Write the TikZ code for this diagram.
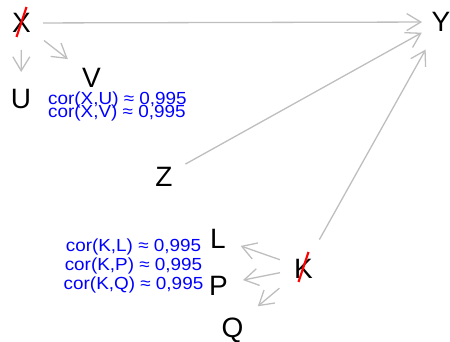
\documentclass[tikz,border=0pt]{standalone}
\usepackage{fontspec}
\usepackage{graphicx}
\setmainfont{Liberation Sans}
\usetikzlibrary{arrows.meta}
\definecolor{edgegray}{HTML}{BEBEBE}
\newcommand{\wide}[1]{\scalebox{1.08}[1]{#1}}
\begin{document}
\begin{tikzpicture}[x=1pt,y=-1pt,
  var/.style={inner sep=0pt, text height=20pt, text depth=0pt, font=\fontsize{28}{28}\selectfont},
  edge/.style={draw=edgegray, line width=1.3pt, -{Straight Barb[length=14pt,width=17pt,line width=1.3pt]}},
  cortext/.style={text=blue, inner sep=0pt, text height=12pt, text depth=0pt, font=\fontsize{17.5}{17.5}\selectfont},
  slash/.style={draw=red, line width=2.2pt}]
\useasboundingbox (0,0) rectangle (450,342);
% variables
\node[var] (X) at (21.5,23) {X};
\node[var] (Y) at (441,22) {Y};
\node[var] (U) at (21,99) {U};
\node[var] (V) at (91.5,77.5) {V};
\node[var] (Z) at (164,176) {Z};
\node[var] (L) at (218,238) {L};
\node[var] (P) at (218.5,285) {P};
\node[var] (Q) at (232.5,327.5) {Q};
\node[var] (K) at (303.5,268) {K};
% edges
\draw[edge, shorten <=21.5pt, shorten >=19pt] (X.center) -- (Y.center);
\draw[edge, shorten <=27pt, shorten >=27pt] (X.center) -- (U.center);
\draw[edge, shorten <=28.5pt, shorten >=30pt] (X.center) -- (V.center);
\draw[edge, shorten <=24.5pt, shorten >=22pt] (Z.center) -- (Y.center);
\draw[edge, shorten <=32.5pt, shorten >=31.5pt] (K.center) -- (Y.center);
\draw[edge, shorten <=25pt, shorten >=24pt] (K.center) -- (L.center);
\draw[edge, shorten <=24pt, shorten >=25pt] (K.center) -- (P.center);
\draw[edge, shorten <=31.5pt, shorten >=33pt] (K.center) -- (Q.center);
% red slashes
\draw[slash] ([shift={(5,-16)}]X.center) -- ([shift={(-5,14)}]X.center);
\draw[slash] ([shift={(5,-16)}]K.center) -- ([shift={(-5,14)}]K.center);
% correlation labels
\node[cortext, anchor=base west] (cxu) at (48,104.5) {\wide{cor(X,U) ≈ 0,995}};
\node[cortext, anchor=base west] (cxv) at (48,118) {\wide{cor(X,V) ≈ 0,995}};
\node[cortext, anchor=base] (ckl) at (133.5,251) {\wide{cor(K,L) ≈ 0,995}};
\node[cortext, anchor=base] (ckp) at (133.5,270) {\wide{cor(K,P) ≈ 0,995}};
\node[cortext, anchor=base] (ckq) at (133.5,289) {\wide{cor(K,Q) ≈ 0,995}};
\end{tikzpicture}
\end{document}
